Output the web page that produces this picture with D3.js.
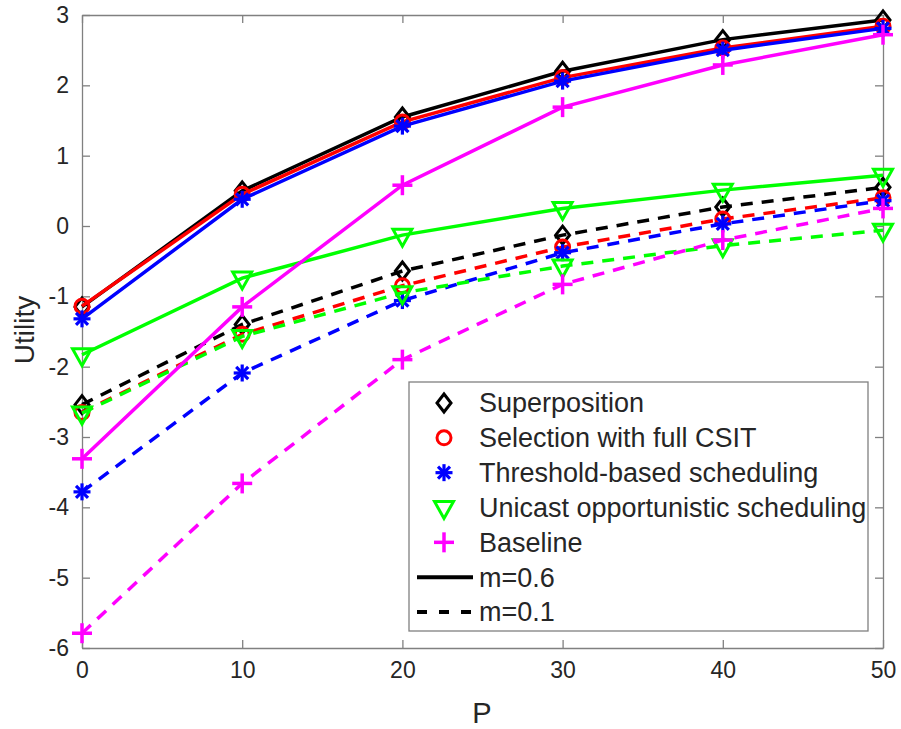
<!DOCTYPE html>
<html>
<head>
    <style>
        body { margin: 0; background: #fff; }
        text { font-family: Arial, "Liberation Sans", sans-serif; fill: #262626; }
    </style>
    <script src="https://d3js.org/d3.v7.min.js"></script>
</head>
<body>
    <svg width="901" height="729"></svg>
    <script>
        // data
        var P = [0, 10, 20, 30, 40, 50];
        var xTicks = [0, 10, 20, 30, 40, 50];
        var yTicks = [-6, -5, -4, -3, -2, -1, 0, 1, 2, 3];

        var superHigh     = [-1.15, 0.50, 1.55, 2.20, 2.65, 2.93];
        var selectHigh    = [-1.14, 0.45, 1.48, 2.11, 2.53, 2.84];
        var thresholdHigh = [-1.32, 0.38, 1.42, 2.06, 2.50, 2.81];
        var unicastHigh   = [-1.83, -0.74, -0.13, 0.25, 0.51, 0.72];
        var baselineHigh  = [-3.31, -1.15, 0.58, 1.69, 2.29, 2.72];

        var superLow      = [-2.54, -1.40, -0.64, -0.13, 0.27, 0.55];
        var selectLow     = [-2.65, -1.54, -0.85, -0.30, 0.10, 0.40];
        var thresholdLow  = [-3.78, -2.09, -1.06, -0.38, 0.03, 0.36];
        var unicastLow    = [-2.66, -1.57, -0.95, -0.57, -0.28, -0.06];
        var baselineLow   = [-5.79, -3.66, -1.90, -0.83, -0.20, 0.25];

        var schemes = ["Superposition", "Selection with full CSIT", "Threshold-based scheduling",
                       "Unicast opportunistic scheduling", "Baseline"];
        var colors = ["#000000", "#ff0000", "#0000ff", "#00ff00", "#ff00ff"];
        var markers = ["diamond", "circle", "star", "triangle", "plus"];
        var high = [superHigh, selectHigh, thresholdHigh, unicastHigh, baselineHigh];
        var low = [superLow, selectLow, thresholdLow, unicastLow, baselineLow];

        var svg = d3.select("svg");
        var mLeft = 82, mRight = 883, mTop = 15, mBottom = 648;

        var x = d3.scaleLinear().domain([0, 50]).range([mLeft, mRight]);
        var y = d3.scaleLinear().domain([-6, 3]).range([mBottom, mTop]);

        var axisColor = "#808080";

        // axes with inward ticks (box on)
        var gx = svg.append("g").attr("transform", "translate(0," + mBottom + ")")
            .call(d3.axisBottom(x).tickValues(xTicks).tickSizeInner(-8).tickSizeOuter(0).tickPadding(14));
        var gxt = svg.append("g").attr("transform", "translate(0," + mTop + ")")
            .call(d3.axisTop(x).tickValues(xTicks).tickSizeInner(-8).tickSizeOuter(0).tickFormat(""));
        var gy = svg.append("g").attr("transform", "translate(" + mLeft + ",0)")
            .call(d3.axisLeft(y).tickValues(yTicks).tickSizeInner(-8).tickSizeOuter(0).tickPadding(13));
        var gyr = svg.append("g").attr("transform", "translate(" + mRight + ",0)")
            .call(d3.axisRight(y).tickValues(yTicks).tickSizeInner(-8).tickSizeOuter(0).tickFormat(""));

        [gx, gxt, gy, gyr].forEach(function(g) {
            g.attr("font-size", null).attr("font-family", null);
            g.selectAll("path, line").attr("stroke", axisColor).attr("stroke-width", 1.3);
            g.selectAll("text").style("font-size", "23px").attr("fill", "#262626");
        });
        gx.selectAll("text").attr("dy", "0.71em");
        gy.selectAll("text").text(function(d) { return d < 0 ? "-" + Math.abs(d) : d; });

        svg.append("text").attr("x", 482).attr("y", 723).attr("text-anchor", "middle")
            .style("font-size", "29px").text("P");
        svg.append("text").attr("transform", "translate(34,330) rotate(-90)")
            .attr("text-anchor", "middle").style("font-size", "28px").text("Utility");

        function drawMarker(g, type, color, cx, cy) {
            if (type === "diamond") {
                g.append("path").attr("d", "M" + cx + "," + (cy - 9) + "L" + (cx + 7) + "," + cy +
                    "L" + cx + "," + (cy + 9) + "L" + (cx - 7) + "," + cy + "Z")
                    .attr("fill", "none").attr("stroke", color).attr("stroke-width", 3);
            } else if (type === "circle") {
                g.append("circle").attr("cx", cx).attr("cy", cy).attr("r", 7)
                    .attr("fill", "none").attr("stroke", color).attr("stroke-width", 3);
            } else if (type === "star") {
                var s = 8.5;
                [0, 45, 90, 135].forEach(function(a) {
                    var r = a * Math.PI / 180;
                    g.append("line").attr("x1", cx - s * Math.cos(r)).attr("y1", cy - s * Math.sin(r))
                        .attr("x2", cx + s * Math.cos(r)).attr("y2", cy + s * Math.sin(r))
                        .attr("stroke", color).attr("stroke-width", 3.2);
                });
            } else if (type === "triangle") {
                g.append("path").attr("d", "M" + (cx - 9.5) + "," + (cy - 6) + "L" + (cx + 9.5) + "," + (cy - 6) +
                    "L" + cx + "," + (cy + 11) + "Z")
                    .attr("fill", "none").attr("stroke", color).attr("stroke-width", 3);
            } else if (type === "plus") {
                g.append("line").attr("x1", cx - 10).attr("y1", cy).attr("x2", cx + 10).attr("y2", cy)
                    .attr("stroke", color).attr("stroke-width", 3.5);
                g.append("line").attr("x1", cx).attr("y1", cy - 10).attr("x2", cx).attr("y2", cy + 10)
                    .attr("stroke", color).attr("stroke-width", 3.5);
            }
        }

        var line = d3.line().x(function(d, i) { return x(P[i]); }).y(function(d) { return y(d); });

        var plot = svg.append("g");
        function drawSeries(vals, k, dashed) {
            plot.append("path").datum(vals).attr("d", line)
                .attr("fill", "none").attr("stroke", colors[k]).attr("stroke-width", 3.5)
                .attr("stroke-dasharray", dashed ? "12,9" : null);
            vals.forEach(function(v, i) {
                drawMarker(plot, markers[k], colors[k], x(P[i]), y(v));
            });
        }
        for (var k = 0; k < 5; k++) {
            drawSeries(high[k], k, false);
            drawSeries(low[k], k, true);
        }

        // legend
        var lg = svg.append("g");
        lg.append("rect").attr("x", 409).attr("y", 382).attr("width", 459).attr("height", 249)
            .attr("fill", "#fff").attr("stroke", axisColor).attr("stroke-width", 1.3);
        var rowY = d3.scaleLinear().domain([0, 6]).range([403, 612]);
        schemes.forEach(function(name, i) {
            drawMarker(lg, markers[i], colors[i], 444, rowY(i));
            lg.append("text").attr("x", 479).attr("y", rowY(i)).attr("dy", "0.35em")
                .style("font-size", "27px").text(name);
        });
        ["m=0.6", "m=0.1"].forEach(function(name, j) {
            var yy = rowY(5 + j);
            lg.append("line").attr("x1", 417).attr("x2", 473).attr("y1", yy).attr("y2", yy)
                .attr("stroke", "#000").attr("stroke-width", 4)
                .attr("stroke-dasharray", j === 1 ? "10,12" : null);
            lg.append("text").attr("x", 479).attr("y", yy).attr("dy", "0.35em")
                .style("font-size", "27px").text(name);
        });
    </script>
</body>
</html>
